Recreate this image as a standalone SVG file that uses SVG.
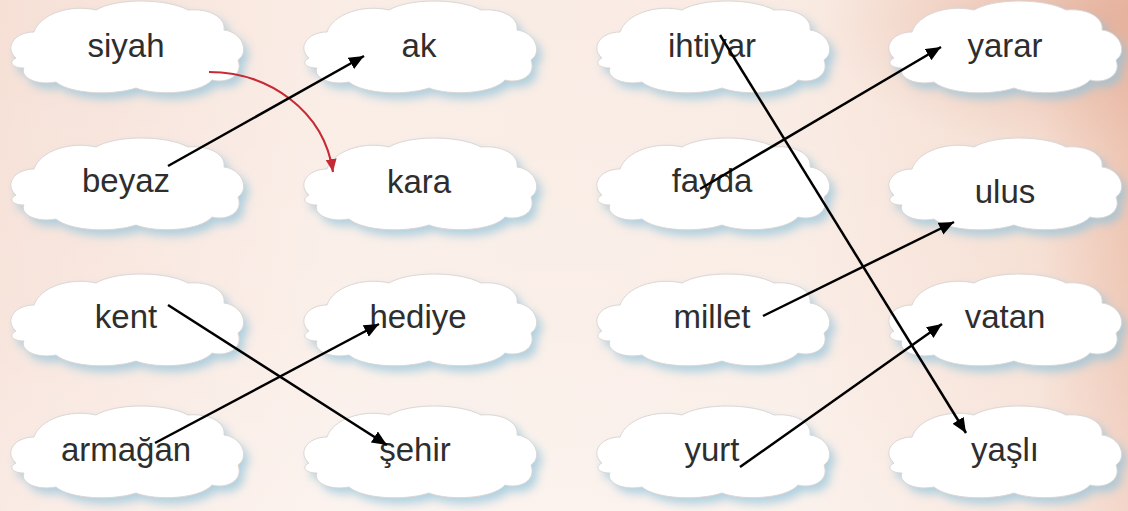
<svg xmlns="http://www.w3.org/2000/svg" xmlns:xlink="http://www.w3.org/1999/xlink" width="1128" height="511" viewBox="0 0 1128 511">
<style>
.lbl{font-family:"Liberation Sans",Arial,sans-serif;font-size:33px;fill:#2e2e2e;text-anchor:middle}
.cl{fill:#ffffff;stroke:#dcd6d4;stroke-width:1}
.sh{fill:#8fc3dc;opacity:0.7;filter:url(#blur)}
.ln{stroke:#000;stroke-width:2.5;fill:none;marker-end:url(#ah)}
.red{stroke:#c52a35;stroke-width:2.2;fill:none;marker-end:url(#ahr)}
</style>
<defs>
<linearGradient id="bg" x1="0" y1="0" x2="1" y2="0">
<stop offset="0" stop-color="#f6e0d6"/>
<stop offset="0.3" stop-color="#faede6"/>
<stop offset="0.7" stop-color="#f9ebe3"/>
<stop offset="0.92" stop-color="#f5dccf"/>
<stop offset="1" stop-color="#ecc0ac"/>
</linearGradient>
<radialGradient id="bg2" cx="0.98" cy="0.05" r="0.25">
<stop offset="0" stop-color="#e0a690" stop-opacity="0.6"/>
<stop offset="1" stop-color="#e0a690" stop-opacity="0"/>
</radialGradient>
<linearGradient id="bg3" x1="0" y1="0" x2="0" y2="1">
<stop offset="0" stop-color="#ffffff" stop-opacity="0"/>
<stop offset="0.6" stop-color="#ffffff" stop-opacity="0.15"/>
<stop offset="1" stop-color="#ffffff" stop-opacity="0.35"/>
</linearGradient>
<filter id="blur" x="-20%" y="-30%" width="140%" height="160%"><feGaussianBlur stdDeviation="5"/></filter>
<path id="cloud" d="M-110,10 C-122,0 -112,-16 -92,-16 C-86,-34 -56,-44 -30,-38 C-10,-50 40,-50 62,-38 C84,-40 100,-30 98,-18 C116,-16 124,4 112,12 C118,28 100,36 86,32 C74,46 30,48 10,40 C-14,48 -56,46 -70,34 C-92,38 -106,28 -102,20 C-114,20 -118,14 -110,10 Z"/>
<marker id="ah" markerUnits="userSpaceOnUse" markerWidth="16" markerHeight="14" refX="15" refY="6.5" orient="auto"><path d="M0,0 L15,6.5 L0,13 Z" fill="#000"/></marker>
<marker id="ahr" markerUnits="userSpaceOnUse" markerWidth="14" markerHeight="12" refX="13" refY="5.5" orient="auto"><path d="M0,0 L13,5.5 L0,11 Z" fill="#c52a35"/></marker>
</defs>
<rect width="1128" height="511" fill="url(#bg)"/>
<rect width="1128" height="511" fill="url(#bg2)"/>
<rect width="1128" height="511" fill="url(#bg3)"/>

<g id="n-siyah"><use xlink:href="#cloud" class="sh" transform="translate(131,54)"/><use xlink:href="#cloud" class="cl" transform="translate(126,48)"/><text class="lbl" x="126" y="57">siyah</text></g>
<g id="n-ak"><use xlink:href="#cloud" class="sh" transform="translate(424,54)"/><use xlink:href="#cloud" class="cl" transform="translate(419,48)"/><text class="lbl" x="419" y="57">ak</text></g>
<g id="n-ihtiyar"><use xlink:href="#cloud" class="sh" transform="translate(717,54)"/><use xlink:href="#cloud" class="cl" transform="translate(712,48)"/><text class="lbl" x="712" y="57">ihtiyar</text></g>
<g id="n-yarar"><use xlink:href="#cloud" class="sh" transform="translate(1009,54)"/><use xlink:href="#cloud" class="cl" transform="translate(1004,48)"/><text class="lbl" x="1005" y="57">yarar</text></g>

<g id="n-beyaz"><use xlink:href="#cloud" class="sh" transform="translate(131,191)"/><use xlink:href="#cloud" class="cl" transform="translate(126,185)"/><text class="lbl" x="126" y="192">beyaz</text></g>
<g id="n-kara"><use xlink:href="#cloud" class="sh" transform="translate(424,191)"/><use xlink:href="#cloud" class="cl" transform="translate(419,185)"/><text class="lbl" x="419" y="193">kara</text></g>
<g id="n-fayda"><use xlink:href="#cloud" class="sh" transform="translate(717,191)"/><use xlink:href="#cloud" class="cl" transform="translate(712,185)"/><text class="lbl" x="712" y="192">fayda</text></g>
<g id="n-ulus"><use xlink:href="#cloud" class="sh" transform="translate(1009,191)"/><use xlink:href="#cloud" class="cl" transform="translate(1004,185)"/><text class="lbl" x="1005" y="203">ulus</text></g>

<g id="n-kent"><use xlink:href="#cloud" class="sh" transform="translate(131,327)"/><use xlink:href="#cloud" class="cl" transform="translate(126,321)"/><text class="lbl" x="126" y="328">kent</text></g>
<g id="n-hediye"><use xlink:href="#cloud" class="sh" transform="translate(424,327)"/><use xlink:href="#cloud" class="cl" transform="translate(419,321)"/><text class="lbl" x="418" y="328">hediye</text></g>
<g id="n-millet"><use xlink:href="#cloud" class="sh" transform="translate(717,327)"/><use xlink:href="#cloud" class="cl" transform="translate(712,321)"/><text class="lbl" x="712" y="328">millet</text></g>
<g id="n-vatan"><use xlink:href="#cloud" class="sh" transform="translate(1009,327)"/><use xlink:href="#cloud" class="cl" transform="translate(1004,321)"/><text class="lbl" x="1005" y="328">vatan</text></g>

<g id="n-armagan"><use xlink:href="#cloud" class="sh" transform="translate(131,459)"/><use xlink:href="#cloud" class="cl" transform="translate(126,453)"/><text class="lbl" x="126" y="461">armağan</text></g>
<g id="n-sehir"><use xlink:href="#cloud" class="sh" transform="translate(424,459)"/><use xlink:href="#cloud" class="cl" transform="translate(419,453)"/><text class="lbl" x="415" y="461">şehir</text></g>
<g id="n-yurt"><use xlink:href="#cloud" class="sh" transform="translate(717,459)"/><use xlink:href="#cloud" class="cl" transform="translate(712,453)"/><text class="lbl" x="712" y="461">yurt</text></g>
<g id="n-yasli"><use xlink:href="#cloud" class="sh" transform="translate(1009,459)"/><use xlink:href="#cloud" class="cl" transform="translate(1004,453)"/><text class="lbl" x="1005" y="461">yaşlı</text></g>

<g id="connectors">
<path class="red" d="M209,72 C268,72 324,110 333,172"/>
<line class="ln" x1="168" y1="166" x2="364" y2="56"/>
<line class="ln" x1="168" y1="305" x2="387" y2="445"/>
<line class="ln" x1="155" y1="443" x2="379" y2="324"/>
<line class="ln" x1="720" y1="35" x2="966" y2="433"/>
<line class="ln" x1="700" y1="189" x2="941" y2="47"/>
<line class="ln" x1="763" y1="316" x2="954" y2="222"/>
<line class="ln" x1="740" y1="467" x2="942" y2="324"/>
</g>
</svg>
